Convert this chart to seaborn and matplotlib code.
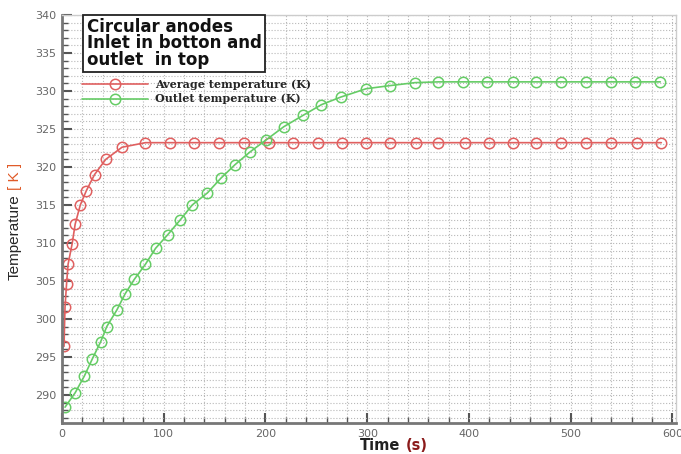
import matplotlib
matplotlib.use("Agg")
import matplotlib.pyplot as plt
from matplotlib.ticker import MultipleLocator
import seaborn as sns
import pandas as pd

# values
avg_time = [2, 3, 4.5, 6, 10, 13, 18, 24, 32, 43, 59, 82, 106, 130, 154, 179, 203,
            227, 252, 275, 299, 322, 348, 370, 396, 420, 443, 466, 490, 515, 540,
            565, 589]
avg_temp = [296.4, 301.6, 304.6, 307.2, 309.9, 312.5, 315.0, 316.9, 319.0, 321.0,
            322.6, 323.2, 323.2, 323.2, 323.2, 323.2, 323.2, 323.2, 323.2, 323.2,
            323.2, 323.2, 323.2, 323.2, 323.2, 323.2, 323.2, 323.2, 323.2, 323.2,
            323.2, 323.2, 323.2]

out_time = [3, 13, 22, 30, 38, 44, 54, 62, 71, 82, 92, 104, 116, 128, 143, 156,
            170, 185, 201, 218, 237, 255, 274, 299, 322, 347, 370, 394, 418, 443,
            466, 490, 515, 540, 563, 588]
out_temp = [288.4, 290.3, 292.5, 294.8, 297.0, 299.0, 301.2, 303.3, 305.2, 307.2,
            309.3, 311.1, 313.0, 315.0, 316.6, 318.5, 320.3, 322.0, 323.6, 325.3,
            326.8, 328.2, 329.2, 330.3, 330.7, 331.1, 331.2, 331.2, 331.2, 331.2,
            331.2, 331.2, 331.2, 331.2, 331.2, 331.2]

series_names = ["Average temperature (K)", "Outlet temperature (K)"]
series_colors = ["#e06060", "#66cc66"]

df = pd.concat([
    pd.DataFrame({"time": avg_time, "temp": avg_temp, "series": series_names[0]}),
    pd.DataFrame({"time": out_time, "temp": out_temp, "series": series_names[1]}),
])

sns.set_theme(style="white")
plt.rcParams["font.family"] = ["DejaVu Sans"]

fig = plt.figure(figsize=(6.81, 4.54), dpi=100)
ax = fig.add_axes([0.091, 0.068, 0.901, 0.899])

for name, color in zip(series_names, series_colors):
    sns.lineplot(
        data=df[df["series"] == name], x="time", y="temp", ax=ax,
        color=color, linewidth=1.2, marker="o", markersize=7.5,
        markerfacecolor="none", markeredgecolor=color, markeredgewidth=1.1,
        label=name,
    )

ax.set_xlim(0, 603)
ax.set_ylim(286.3, 340)
ax.xaxis.set_major_locator(MultipleLocator(100))
ax.xaxis.set_minor_locator(MultipleLocator(20))
ax.yaxis.set_major_locator(MultipleLocator(5))
ax.yaxis.set_minor_locator(MultipleLocator(1))
ax.grid(which="both", color="#b8b8b8", linestyle=":", linewidth=0.8)
ax.tick_params(which="major", direction="in", length=7, width=1.5, color="#555555",
               labelsize=8, labelcolor="#666666", bottom=True, left=True, pad=4)
ax.tick_params(which="minor", direction="in", length=4, width=1.0, color="#555555",
               bottom=True, left=True)
for side in ["left", "bottom"]:
    ax.spines[side].set_color("#777777")
    ax.spines[side].set_linewidth(2)
for side in ["top", "right"]:
    ax.spines[side].set_color("#cccccc")
    ax.spines[side].set_linewidth(1)
ax.set_xlabel("")
ax.set_ylabel("")

ax.text(0.04, 0.993, "Circular anodes\nInlet in botton and\noutlet  in top",
        transform=ax.transAxes, ha="left", va="top", fontsize=12,
        fontweight="bold", linespacing=0.9, color="#111111",
        bbox=dict(boxstyle="square,pad=0.2", facecolor="white",
                  edgecolor="#222222", linewidth=1.3))

ax.legend(loc="upper left", bbox_to_anchor=(0.025, 0.855), frameon=False,
          handlelength=6.0, handletextpad=0.6, labelspacing=0.35,
          borderaxespad=0.0,
          prop=dict(family="DejaVu Serif", weight="bold", size=8))

ylab = fig.text(0.022, 0.383, "Temperature", rotation=90, ha="center", va="bottom",
                fontsize=11, family=["Liberation Sans", "DejaVu Sans"])
fig.canvas.draw()
top = ylab.get_window_extent().y1 / fig.bbox.height
fig.text(0.022, top + 0.01, "[ K ]", rotation=90, ha="center", va="bottom",
         fontsize=11, color="#e05a28", family=["Liberation Sans", "DejaVu Sans"])

tlab = fig.text(0.528, 0.018, "Time", ha="left", va="center", fontsize=10.5,
                fontweight="bold", color="#222222")
fig.canvas.draw()
right = tlab.get_window_extent().x1 / fig.bbox.width
fig.text(right + 0.008, 0.018, "(s)", ha="left", va="center", fontsize=10.5,
         fontweight="bold", color="#8b1a1a")

fig.savefig("out.png", dpi=100)
plt.close(fig)
